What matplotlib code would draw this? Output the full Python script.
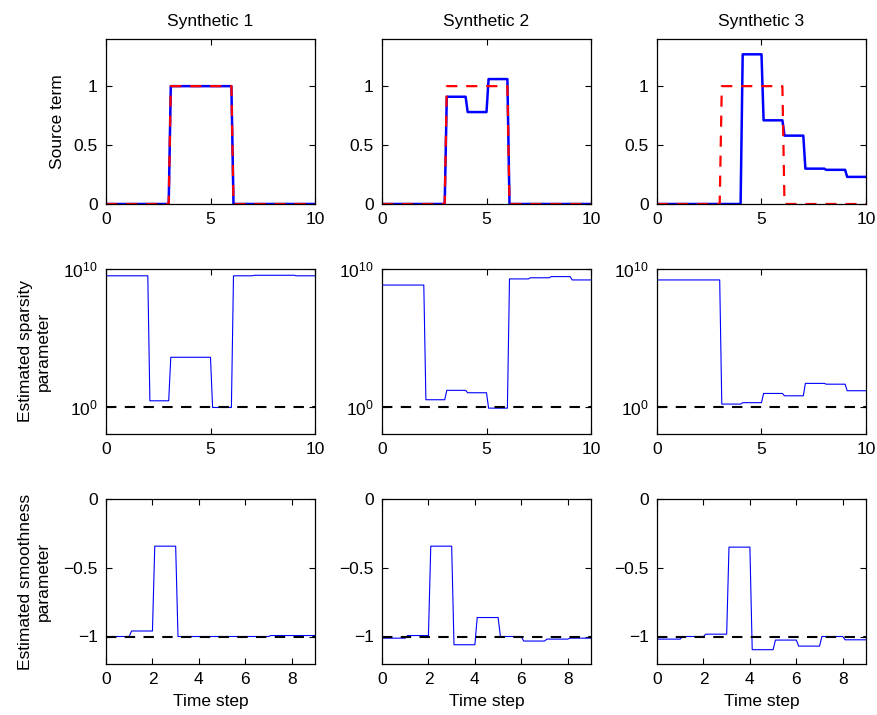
import numpy as np
import matplotlib
matplotlib.use('Agg')
import matplotlib.pyplot as plt

plt.rcParams['font.family'] = ['Liberation Sans', 'DejaVu Sans']
plt.rcParams['mathtext.fontset'] = 'custom'
plt.rcParams['mathtext.rm'] = 'Liberation Sans'
plt.rcParams['mathtext.it'] = 'Liberation Sans'
plt.rcParams['font.size'] = 12.5

# Level of each series on each unit time interval
titles = ['Synthetic 1', 'Synthetic 2', 'Synthetic 3']

true_source = [0, 0, 0, 1, 1, 1, 0, 0, 0, 0]
est_source = [
    [0, 0, 0, 1, 1, 1, 0, 0, 0, 0],
    [0, 0, 0, 0.91, 0.78, 1.06, 0, 0, 0, 0],
    [0, 0, 0, 0, 1.27, 0.71, 0.58, 0.30, 0.29, 0.23],
]

sparsity = [
    [3.2e9, 3.2e9, 2.6, 3800, 3800, 0.85, 3.2e9, 3.5e9, 3.5e9, 3.2e9],
    [6.8e8, 6.8e8, 3.1, 15, 10, 0.76, 1.9e9, 2.3e9, 2.8e9, 1.6e9],
    [1.6e9, 1.6e9, 1.6e9, 1.5, 1.9, 8.9, 6.0, 48, 42, 14],
]

smoothness = [
    [-1.0, -0.96, -0.343, -1.0, -1.0, -1.0, -1.0, -0.993, -0.993],
    [-1.012, -0.993, -0.343, -1.06, -0.862, -1.0, -1.033, -1.019, -1.012],
    [-1.019, -1.0, -0.983, -0.35, -1.096, -1.026, -1.07, -1.0, -1.024],
]


def steps(levels, ramp=0.1):
    xs, ys = [0], [levels[0]]
    for i, v in enumerate(levels):
        if i > 0:
            xs.append(i + ramp)
            ys.append(v)
        xs.append(i + 1)
        ys.append(v)
    return xs, ys


def style(ax):
    ax.tick_params(direction='in', top=True, right=True, length=4, width=0.8, pad=6)
    for s in ax.spines.values():
        s.set_linewidth(0.9)


fig = plt.figure(figsize=(8.78, 7.15), dpi=100)
W, H = 878, 715
lefts = [106, 382, 657]
width = 209
tops = [39, 269, 499]
height = 165

for c in range(3):
    # row 1: source term
    ax = fig.add_axes([lefts[c] / W, 1 - (tops[0] + height) / H, width / W, height / H])
    x, y = steps(est_source[c])
    ax.plot(x, y, color='blue', lw=1.8)
    x, y = steps(true_source)
    ax.plot(x, y, color='red', lw=1.6, ls=(0, (5, 4)))
    ax.set_xlim(0, 10)
    ax.set_ylim(0, 1.4)
    ax.set_xticks([0, 5, 10])
    ax.set_yticks([0, 0.5, 1])
    ax.set_yticklabels(['0', '0.5', '1'])
    ax.set_title(titles[c], fontsize=12.5, pad=9)
    if c == 0:
        ax.set_ylabel('Source term', labelpad=6)
    style(ax)

    # row 2: sparsity parameter
    ax = fig.add_axes([lefts[c] / W, 1 - (tops[1] + height) / H, width / W, height / H])
    x, y = steps(sparsity[c])
    ax.plot(x, y, color='blue', lw=0.8)
    ax.axhline(1, color='black', lw=1.5, ls=(0, (5, 4)))
    ax.set_yscale('log')
    ax.set_xlim(0, 10)
    ax.set_ylim(1e-2, 1e10)
    ax.set_xticks([0, 5, 10])
    ax.set_yticks([1, 1e10])
    ax.set_yticklabels([r'$10^{0}$', r'$10^{10}$'])
    ax.yaxis.set_minor_locator(matplotlib.ticker.NullLocator())
    if c == 0:
        ax.set_ylabel('Estimated sparsity\nparameter', labelpad=9)
    style(ax)

    # row 3: smoothness parameter
    ax = fig.add_axes([lefts[c] / W, 1 - (tops[2] + height) / H, width / W, height / H])
    x, y = steps(smoothness[c])
    ax.plot(x, y, color='blue', lw=0.8)
    ax.axhline(-1, color='black', lw=1.5, ls=(0, (5, 4)))
    ax.set_xlim(0, 9)
    ax.set_ylim(-1.2, 0)
    ax.set_xticks([0, 2, 4, 6, 8])
    ax.set_yticks([-1, -0.5, 0])
    ax.set_yticklabels(['\u22121', '\u22120.5', '0'])
    ax.set_xlabel('Time step', labelpad=5)
    if c == 0:
        ax.set_ylabel('Estimated smoothness\nparameter', labelpad=9)
    style(ax)

fig.savefig('out.png', dpi=100)
